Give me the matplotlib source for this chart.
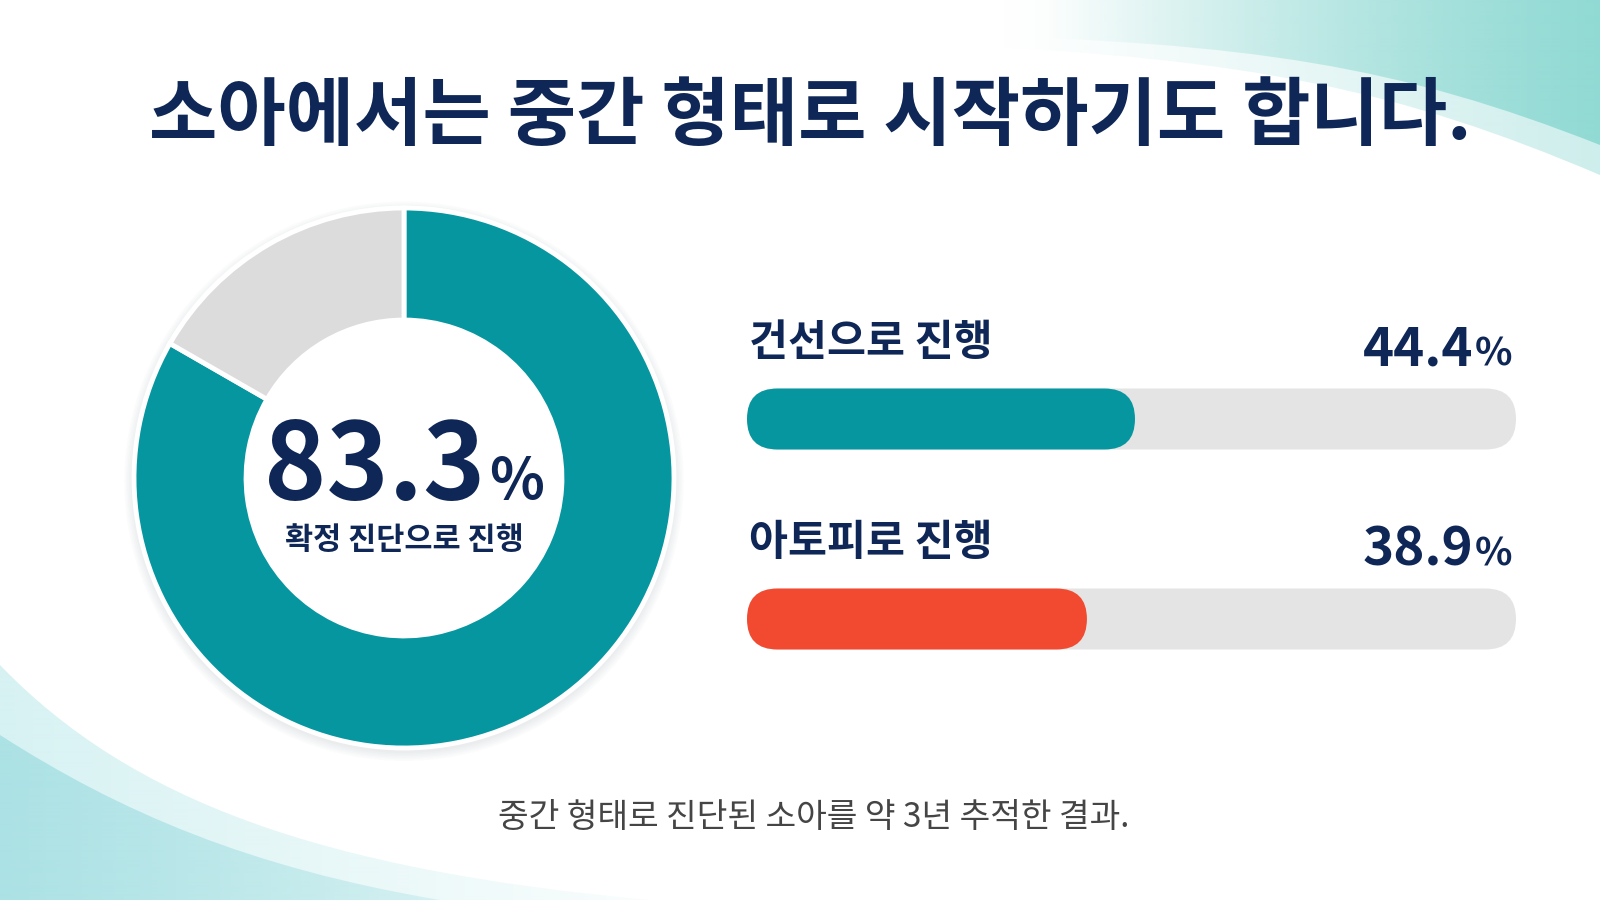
import numpy as np
import matplotlib
matplotlib.use("Agg")
import matplotlib.pyplot as plt
from matplotlib.path import Path
from matplotlib.patches import PathPatch, FancyBboxPatch, Circle, Wedge

plt.rcParams['font.family'] = ['Noto Sans CJK KR', 'DejaVu Sans']

# 데이터
title = "소아에서는 중간 형태로 시작하기도 합니다."
footer = "중간 형태로 진단된 소아를 약 3년 추적한 결과."

donut_label = "확정 진단으로 진행"
donut_value = 83.3

bar_labels = ["건선으로 진행", "아토피로 진행"]
bar_values = [44.4, 38.9]
bar_max = 88  # 회색 트랙 끝 값

NAVY = "#0f2756"
TEAL = "#0596a0"
RED = "#f24a30"
bar_colors = [TEAL, RED]

W, H = 1600, 900
fig = plt.figure(figsize=(16, 9), dpi=100)
fig.patch.set_facecolor('white')

# ---- 배경 물결 (장식) ----
bg = fig.add_axes([0, 0, 1, 1])
bg.set_xlim(0, W)
bg.set_ylim(H, 0)
bg.axis('off')


def gradient_fill(verts, rgb, x_full, x_zero, amax=1.0, gamma=1.0):
    codes = [Path.MOVETO, Path.CURVE4, Path.CURVE4, Path.CURVE4] + \
        [Path.LINETO] * (len(verts) - 5) + [Path.CLOSEPOLY]
    patch = PathPatch(Path(verts, codes), facecolor='none', edgecolor='none')
    bg.add_patch(patch)
    xs = np.arange(W)
    a = np.clip((xs - x_zero) / (x_full - x_zero), 0, 1) ** gamma * amax
    img = np.zeros((2, W, 4))
    img[..., :3] = np.array(rgb) / 255
    img[..., 3] = a
    im = bg.imshow(img, extent=(0, W, H, 0), aspect='auto', interpolation='bilinear', zorder=0)
    im.set_clip_path(patch)


# 오른쪽 위
gradient_fill([(950, 45), (1250, 58), (1400, 90), (1600, 175), (1600, 0), (950, 0), (950, 0)],
              (205, 238, 236), 1600, 1000, gamma=1.1)
gradient_fill([(950, 35), (1250, 42), (1400, 66), (1600, 145), (1600, 0), (950, 0), (950, 0)],
              (145, 218, 212), 1600, 1050, gamma=1.0)
# 왼쪽 아래
gradient_fill([(0, 665), (130, 800), (320, 870), (650, 900), (0, 900), (0, 900)],
              (215, 242, 243), 0, 760, gamma=1.0)
gradient_fill([(0, 735), (120, 812), (250, 868), (440, 900), (0, 900), (0, 900)],
              (172, 226, 229), 0, 650, gamma=0.9)

# ---- 제목 / 하단 문구 ----
fig.text(810 / W, 1 - 117 / H, title, fontsize=53.5, fontweight='bold', color=NAVY,
         ha='center', va='center')
fig.text(814 / W, 1 - 818 / H, footer, fontsize=24, color='#454545', ha='center', va='center')

# ---- 도넛 ----
R_PX = 270
INNER = 0.585
ax_d = fig.add_axes([(404 - 300) / W, (H - 778) / H, 600 / W, 600 / H])
for k in range(6):
    ax_d.add_patch(Wedge((0, -0.012), 1 + 0.006 * (k + 1), 0, 360, width=0.2,
                         color='#5a6470', alpha=0.018, lw=0))
ax_d.add_patch(Circle((0, 0), INNER, color='white', lw=0))
ax_d.pie([donut_value, 100 - donut_value], colors=[TEAL, '#dcdcdc'], startangle=90,
         counterclock=False, radius=1,
         wedgeprops=dict(width=1 - INNER, edgecolor='white', linewidth=3.5))
lim = 300 / R_PX
ax_d.set_xlim(-lim, lim)
ax_d.set_ylim(-lim, lim)
ax_d.set_aspect('equal')
ax_d.axis('off')

yb = -22 / R_PX
num = ax_d.text(0, yb, f"{donut_value:.1f}", fontsize=76, fontweight='bold', color=NAVY,
                ha='left', va='baseline')
pct = ax_d.annotate("%", xy=(1, yb), xycoords=(num, 'data'), xytext=(3, 0),
                    textcoords='offset points', fontsize=41, fontweight='bold',
                    color=NAVY, ha='left', va='baseline')
ax_d.text(0, -62 / R_PX, donut_label, fontsize=22, fontweight='bold', color=NAVY,
          ha='center', va='center')

r = fig.canvas.get_renderer()
w_px = pct.get_window_extent(r).x1 - num.get_window_extent(r).x0
num.set_x(-w_px / 2 / R_PX)

# ---- 가로 막대 ----
ax_b = fig.add_axes([747 / W, (H - 739) / H, 769 / W, 440 / H])
ax_b.set_xlim(0, bar_max)
ax_b.set_ylim(1.6, -0.6)
ax_b.axis('off')

sx = 769 / bar_max   # px per x unit
sy = 200             # px per y unit
bar_h = 61 / sy
ypos = np.arange(len(bar_values))


def pill(x, y, w, h, color, z):
    p = FancyBboxPatch((x, y), w, h, boxstyle=f"round,pad=0,rounding_size={h / 2 * sy / sx}",
                       mutation_aspect=sx / sy, facecolor=color, edgecolor='none', zorder=z)
    ax_b.add_patch(p)


tracks = ax_b.barh(ypos, [bar_max] * len(bar_values), height=bar_h)
fills = ax_b.barh(ypos, bar_values, height=bar_h)
for rect in tracks:
    rect.set_visible(False)
    pill(rect.get_x(), rect.get_y(), rect.get_width(), rect.get_height(), '#e4e4e4', 1)
for rect, c in zip(fills, bar_colors):
    rect.set_visible(False)
    pill(rect.get_x(), rect.get_y(), rect.get_width(), rect.get_height(), c, 2)

for y, lab, v in zip(ypos, bar_labels, bar_values):
    ax_b.text(0.2, y - 0.38, lab, fontsize=30.5, fontweight='bold', color=NAVY,
              ha='left', va='center')
    p = ax_b.text(bar_max - 0.4, y - 0.27, "%", fontsize=28, fontweight='bold', color=NAVY,
                  ha='right', va='baseline')
    ax_b.annotate(f"{v:.1f}", xy=(0, y - 0.27), xycoords=(p, 'data'), xytext=(-1, 0),
                  textcoords='offset points', fontsize=38, fontweight='bold', color=NAVY,
                  ha='right', va='baseline')

fig.savefig('out.png', dpi=100)
